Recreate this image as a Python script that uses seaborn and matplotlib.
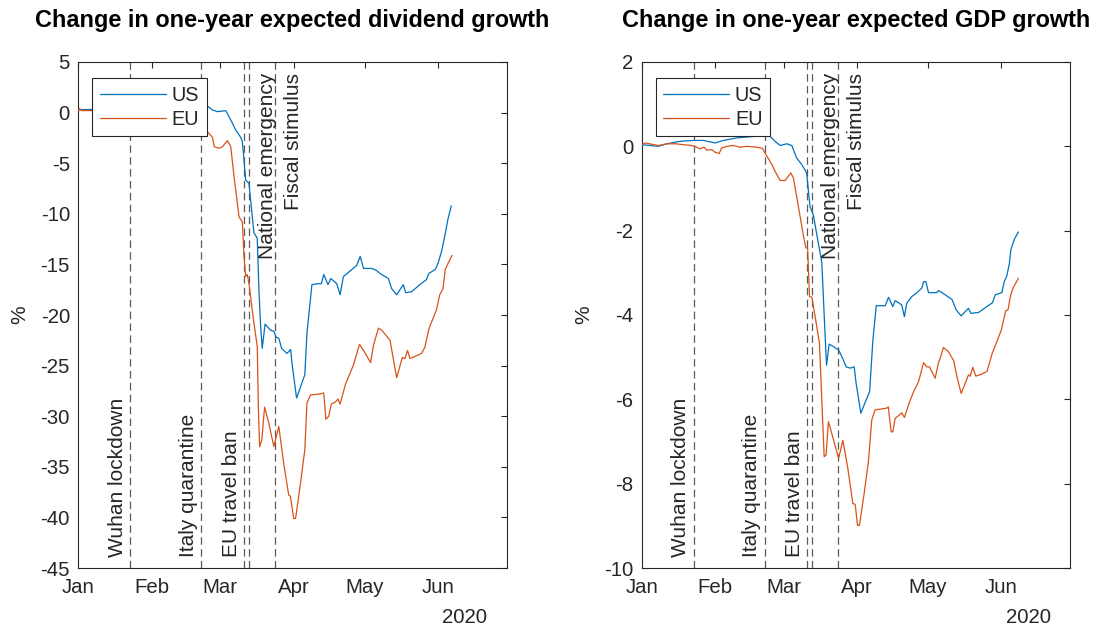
import numpy as np
import pandas as pd
import matplotlib
matplotlib.use('Agg')
import matplotlib.pyplot as plt
import matplotlib.dates as mdates
import seaborn as sns

START = pd.Timestamp('2020-01-01')

# ---- Data (days since 2020-01-01, values in %) ----
div_us_day = [0, 2, 5, 10, 15, 20, 25, 30, 35, 40, 45, 50, 53.9, 56.7, 58.8, 62.3, 64.4, 66.5,
              68.6, 69.3, 70.0, 70.7, 72.1, 74.2, 75.6, 76.3, 77.0, 77.7, 78.9, 81.2, 82.6, 83.6,
              84.7, 85.9, 88.2, 89.7, 90.3, 92.2, 93.9, 95.7, 96.6, 98.7, 101.6, 102.7, 103.7,
              105.5, 106.7, 109.2, 110.6, 112.0, 115.6, 117.6, 119.1, 120.5, 124.0, 126.0, 127.5,
              131.0, 132.4, 134.5, 137.3, 138.3, 140.8, 144.3, 147.1, 148.1, 150.8, 152.0, 153.6,
              155.0, 156.2, 157.6]
div_us_val = [0.25, 0.3, 0.3, 0.4, 0.5, 0.4, 0.5, 0.3, 0.6, 0.7, 0.8, 0.9, 0.75, 0.26, 0.09, 0.19,
              -0.73, -1.72, -2.44, -2.87, -4.68, -6.66, -6.99, -11.9, -12.4, -17.5, -21.0, -23.3,
              -20.9, -21.5, -21.6, -22.2, -22.3, -23.3, -23.8, -23.4, -24.8, -28.2, -27.1, -25.9,
              -21.8, -17.0, -16.9, -16.9, -16.0, -17.0, -16.4, -16.9, -18.0, -16.2, -15.5, -15.1,
              -14.2, -15.4, -15.4, -15.6, -15.9, -16.4, -17.4, -18.0, -17.0, -17.8, -17.7, -17.0,
              -16.5, -15.9, -15.5, -14.9, -13.6, -12.0, -10.5, -9.2]

div_eu_day = [0, 0.6, 1.2, 5, 10, 15, 20, 25, 30, 35, 40, 45, 50, 52, 54.6, 56.7, 57.4, 59.5,
              60.9, 63.0, 64.4, 65.8, 67.9, 69.3, 70.0, 70.7, 71.4, 72.1, 74.2, 75.6, 76.1, 76.6,
              77.5, 78.7, 80.5, 82.6, 84.7, 86.8, 88.9, 89.6, 91.0, 91.8, 93.9, 95.7, 96.6, 98.1,
              102.3, 103.7, 104.6, 105.8, 106.9, 108.6, 109.7, 110.6, 112.8, 116.3, 118.8, 120.5,
              123.5, 124.7, 126.8, 128.2, 131.7, 134.5, 136.9, 138.0, 139.1, 140.1, 142.2, 145.0,
              146.4, 148.2, 151.3, 152.7, 154.1, 155.0, 157.9]
div_eu_val = [0.2, 0.4, 0.2, 0.2, 0.1, 0.0, -0.2, -0.4, -0.3, -0.2, 0.0, 0.1, 0.0, -0.3, -1.9,
              -2.45, -3.37, -3.53, -3.37, -2.77, -3.37, -6.33, -10.3, -10.8, -14.2, -16.2, -16.0,
              -16.9, -20.8, -23.1, -29.4, -33.0, -32.4, -29.1, -30.7, -33.0, -31.0, -34.7, -37.8,
              -37.9, -40.1, -40.1, -36.6, -33.3, -28.7, -27.9, -27.8, -27.7, -30.3, -30.0, -28.8,
              -28.6, -28.3, -28.8, -26.9, -24.9, -22.9, -23.5, -24.7, -23.0, -21.3, -21.5, -22.5,
              -26.2, -24.2, -24.3, -23.5, -24.3, -24.1, -23.8, -23.2, -21.3, -19.5, -18.0, -17.4,
              -15.5, -14.1]

gdp_us_day = [0, 7, 10.6, 16.2, 21.8, 26, 31, 34.5, 40.2, 44.4, 48.6, 51.4, 54.2, 56.3, 58.5,
              61.3, 63.4, 65.5, 67.6, 69.7, 70.4, 71.1, 72.5, 74.6, 76.1, 77.1, 78.1, 79.2, 81.1,
              83.2, 84.6, 86.4, 88.1, 89.8, 90.6, 92.6, 94.5, 96.3, 97.7, 99.1, 102.9, 104.3,
              106.1, 107.1, 109.9, 111.0, 112.0, 114.2, 116.3, 118.4, 119.1, 120.1, 121.2, 124.7,
              125.4, 126.9, 131.1, 132.9, 135.0, 136.7, 138.1, 139.1, 142.3, 145.9, 148.2, 149.4,
              152.2, 153.2, 154.3, 155.4, 156.0, 157.5, 159.2]
gdp_us_val = [0.04, 0.0, 0.06, 0.12, 0.14, 0.14, 0.08, 0.14, 0.2, 0.22, 0.24, 0.26, 0.24, 0.12,
              0.02, 0.06, 0.02, -0.28, -0.43, -0.63, -1.03, -1.43, -1.62, -2.29, -2.75, -4.0,
              -5.19, -4.69, -4.75, -4.83, -4.99, -5.23, -5.26, -5.23, -5.62, -6.33, -6.06, -5.82,
              -4.59, -3.78, -3.78, -3.58, -3.80, -3.66, -3.76, -4.04, -3.72, -3.56, -3.47, -3.36,
              -3.21, -3.21, -3.47, -3.47, -3.42, -3.47, -3.63, -3.88, -4.02, -3.92, -3.84, -3.96,
              -3.94, -3.80, -3.71, -3.52, -3.47, -3.21, -3.07, -2.77, -2.45, -2.2, -2.03]

gdp_eu_day = [0, 1.4, 7, 10.6, 14.5, 17.3, 21.1, 23.2, 24.6, 26.3, 27.5, 29.6, 31, 32.7, 33.8,
              36, 38.7, 41.5, 44.4, 48.6, 51, 52.1, 55, 56.3, 58.5, 60.6, 63, 64.1, 66.2, 68.4,
              69.4, 70.1, 70.9, 71.9, 73.3, 75.1, 76.1, 77.1, 77.9, 78.9, 81.1, 83.2, 85.0, 87.0,
              89.2, 90.2, 91.2, 92.0, 94.0, 95.8, 97.2, 98.6, 103.5, 104.2, 105.4, 106.1, 107.1,
              108.9, 109.9, 111.0, 113.2, 114.9, 117.0, 119.1, 120.5, 121.6, 124.0, 125.4, 126.1,
              127.5, 129.6, 131.8, 133.2, 135.0, 136.7, 138.1, 138.8, 139.9, 141.2, 143.7, 145.9,
              146.7, 148.1, 150.1, 152.0, 153.8, 154.8, 155.6, 156.2, 157.2, 159.2]
gdp_eu_val = [0.04, 0.08, 0.02, 0.06, 0.06, 0.04, 0.02, -0.02, -0.06, -0.02, -0.09, -0.08, -0.14,
              -0.17, -0.04, 0.0, 0.02, -0.02, 0.0, -0.02, -0.05, -0.16, -0.43, -0.59, -0.81, -0.81,
              -0.63, -0.75, -1.43, -2.14, -2.41, -2.41, -3.56, -3.58, -4.04, -4.67, -6.02, -7.36,
              -7.32, -6.53, -6.97, -7.40, -6.97, -7.60, -8.47, -8.49, -8.99, -8.99, -8.23, -7.48,
              -6.49, -6.25, -6.21, -6.18, -6.77, -6.77, -6.45, -6.37, -6.32, -6.43, -6.06, -5.82,
              -5.58, -5.13, -5.23, -5.23, -5.50, -5.13, -5.03, -4.77, -4.87, -5.08, -5.46, -5.86,
              -5.62, -5.42, -5.45, -5.24, -5.45, -5.40, -5.34, -5.19, -4.91, -4.63, -4.35, -3.90,
              -3.88, -3.62, -3.47, -3.33, -3.13]

series_labels = ['US', 'EU']
titles = ['Change in one-year expected dividend growth', 'Change in one-year expected GDP growth']
ylabel = '%'
ylims = [(-45, 5), (-10, 2)]
yticks = [list(range(-45, 6, 5)), list(range(-10, 3, 2))]
xlim_dates = ['2020-01-01', '2020-06-30']
month_ticks = ['2020-01-01', '2020-02-01', '2020-03-01', '2020-04-01', '2020-05-01', '2020-06-01']
year_label = '2020'

event_labels = ['Wuhan lockdown', 'Italy quarantine', 'EU travel ban', 'National emergency', 'Fiscal stimulus']
event_dates = ['2020-01-23', '2020-02-22', '2020-03-11', '2020-03-13', '2020-03-24']
event_pos = ['bottom-left', 'bottom-left', 'bottom-left', 'top-right', 'top-right']

colors = ['#0072BD', '#D95319']

# ---- Style ----
sns.set_style('white')
plt.rcParams['font.family'] = ['Liberation Sans', 'DejaVu Sans']
plt.rcParams['axes.unicode_minus'] = False
plt.rcParams['axes.edgecolor'] = '#262626'
plt.rcParams['axes.linewidth'] = 0.8
plt.rcParams['xtick.color'] = '#262626'
plt.rcParams['ytick.color'] = '#262626'
plt.rcParams['text.color'] = '#262626'


def to_dates(days):
    return START + pd.to_timedelta(np.asarray(days, dtype=float), unit='D')


fig = plt.figure(figsize=(10.97, 6.30), dpi=100)
ax_l = fig.add_axes([0.0714, 0.0984, 0.3905, 0.8032])
ax_r = fig.add_axes([0.585, 0.0984, 0.3904, 0.8032])

panels = [
    (ax_l, [(div_us_day, div_us_val), (div_eu_day, div_eu_val)]),
    (ax_r, [(gdp_us_day, gdp_us_val), (gdp_eu_day, gdp_eu_val)]),
]

for i, (ax, sers) in enumerate(panels):
    # event lines
    for lab, d, pos in zip(event_labels, event_dates, event_pos):
        dt = pd.Timestamp(d)
        ax.axvline(dt, color='#5a5a5a', lw=0.9, ls=(0, (6, 3.5)), zorder=1)
        if pos == 'bottom-left':
            ax.annotate(lab, xy=(mdates.date2num(dt), 0), xycoords=('data', 'axes fraction'),
                        xytext=(-2.5, 8), textcoords='offset points', rotation=90,
                        ha='right', va='bottom', fontsize=15, color='#262626')
        else:
            ax.annotate(lab, xy=(mdates.date2num(dt), 1), xycoords=('data', 'axes fraction'),
                        xytext=(6.5, -8), textcoords='offset points', rotation=90,
                        ha='left', va='top', fontsize=15, color='#262626')
    for (days, vals), lab, c in zip(sers, series_labels, colors):
        df = pd.DataFrame({'date': to_dates(days), 'value': vals})
        sns.lineplot(data=df, x='date', y='value', color=c, lw=0.9, label=lab, ax=ax,
                     estimator=None, sort=True, zorder=3)

    ax.set_xlim(pd.Timestamp(xlim_dates[0]), pd.Timestamp(xlim_dates[1]))
    ax.set_ylim(*ylims[i])
    ax.set_yticks(yticks[i])
    ax.set_xticks([pd.Timestamp(t) for t in month_ticks])
    ax.xaxis.set_major_formatter(mdates.DateFormatter('%b'))
    ax.tick_params(axis='both', direction='in', length=4, width=0.8, top=True, right=True,
                   labelsize=14.7)
    ax.tick_params(axis='x', pad=7)
    ax.tick_params(axis='y', pad=6)
    ax.set_xlabel('')
    ax.set_ylabel(ylabel, fontsize=15, labelpad=8)
    ax.set_title(titles[i], fontsize=16.9, fontweight='bold', pad=25, color='black')
    ax.text(0.955, -0.097, year_label, transform=ax.transAxes, ha='right', va='center',
            fontsize=14.7)
    for sp in ax.spines.values():
        sp.set_visible(True)
        sp.set_color('#262626')
    leg = ax.legend(loc='upper left', bbox_to_anchor=(0.033, 0.968), borderaxespad=0,
                    fontsize=14.3, handlelength=3.3, handletextpad=0.3, labelspacing=0.25,
                    borderpad=0.38, fancybox=False, framealpha=1, edgecolor='#262626')
    leg.get_frame().set_linewidth(0.8)

fig.savefig('out.png', dpi=100)
